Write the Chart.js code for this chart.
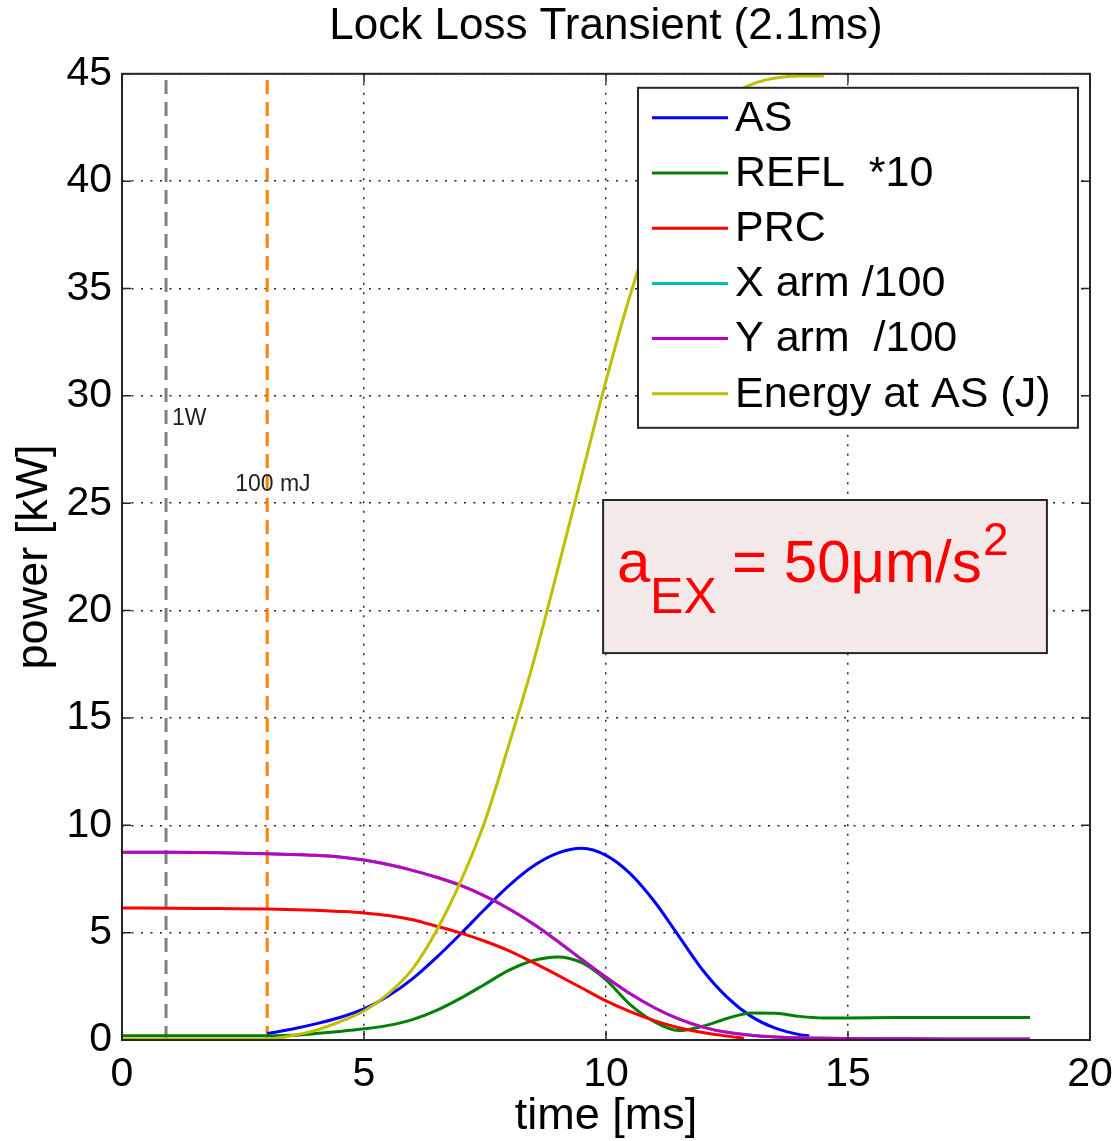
<!DOCTYPE html>
<html><head><meta charset="utf-8">
<script src="https://cdn.jsdelivr.net/npm/chart.js@4.4.1/dist/chart.umd.min.js"></script>
<style>html,body{margin:0;padding:0;background:#fff}#wrap{width:1116px;height:1141px}</style>
</head><body><div id="wrap"><canvas id="c" width="1116" height="1141"></canvas></div>
<script>
// ---------- data ----------
const titleText = 'Lock Loss Transient (2.1ms)';
const xTitle = 'time [ms]';
const yTitle = 'power [kW]';
const xTicks = [0, 5, 10, 15, 20];
const yTicks = [0, 5, 10, 15, 20, 25, 30, 35, 40, 45];
const seriesLabels = ['AS', 'REFL  *10', 'PRC', 'X arm /100', 'Y arm  /100', 'Energy at AS (J)'];
const seriesColors = ['#0000ff', '#008000', '#ff0000', '#00bfbf', '#bf00bf', '#bfbf00'];

const tAS = [3.0, 3.5, 4.0, 4.5, 5.0, 5.5, 6.0, 6.5, 7.0, 7.5, 8.0, 8.5, 9.0, 9.5, 10.0, 10.5, 11.0, 11.5, 12.0, 12.5, 13.0, 13.5, 14.0, 14.2];
const AS  = [0.3, 0.5, 0.75, 1.05, 1.45, 2.05, 2.85, 3.85, 4.95, 6.1, 7.2, 8.1, 8.7, 8.93, 8.6, 7.75, 6.45, 4.85, 3.25, 2.0, 1.1, 0.55, 0.25, 0.2];

const tREFL = [0, 1, 2, 3, 3.5, 4, 4.5, 5, 5.5, 6, 6.5, 7, 7.5, 8, 8.5, 9, 9.5, 10, 10.5, 11, 11.5, 12, 12.5, 13, 13.5, 14, 14.5, 15, 16, 17, 18, 18.76];
const REFL  = [0.2, 0.2, 0.2, 0.2, 0.22, 0.3, 0.4, 0.52, 0.68, 0.95, 1.38, 1.95, 2.6, 3.25, 3.7, 3.87, 3.6, 2.8, 1.65, 0.85, 0.44, 0.64, 1.0, 1.26, 1.25, 1.1, 1.03, 1.03, 1.05, 1.05, 1.05, 1.05];

const tPRC = [0, 1, 2, 3, 4, 4.5, 5, 5.5, 6, 6.5, 7, 7.5, 8, 8.5, 9, 9.5, 10, 10.5, 11, 11.5, 12, 12.5, 12.85];
const PRC  = [6.15, 6.14, 6.12, 6.1, 6.04, 5.99, 5.92, 5.8, 5.6, 5.3, 4.98, 4.6, 4.15, 3.6, 3.02, 2.42, 1.82, 1.32, 0.9, 0.57, 0.35, 0.18, 0.08];

const tArm = [0, 1, 2, 3, 4, 4.5, 5, 5.5, 6, 6.5, 7, 7.5, 8, 8.5, 9, 9.5, 10, 10.5, 11, 11.5, 12, 12.5, 13, 13.5, 14, 15, 16, 17, 18, 18.76];
const XARM = [8.75, 8.74, 8.72, 8.68, 8.6, 8.52, 8.38, 8.17, 7.9, 7.58, 7.2, 6.7, 6.1, 5.4, 4.6, 3.75, 2.92, 2.15, 1.5, 0.98, 0.6, 0.36, 0.22, 0.14, 0.1, 0.07, 0.06, 0.05, 0.05, 0.05];
const YARM = [8.75, 8.74, 8.72, 8.68, 8.6, 8.52, 8.38, 8.17, 7.9, 7.58, 7.2, 6.7, 6.1, 5.4, 4.6, 3.75, 2.92, 2.15, 1.5, 0.98, 0.6, 0.36, 0.22, 0.14, 0.1, 0.07, 0.06, 0.05, 0.05, 0.05];

const tEnergy = [0, 3.0, 3.5, 4.0, 4.5, 5.0, 5.5, 6.0, 6.5, 7.0, 7.5, 8.0, 8.5, 9.0, 9.5, 10.0, 10.5, 11.0, 11.5, 12.0, 12.5, 13.0, 13.5, 14.0, 14.5];
const ENERGY  = [0.05, 0.05, 0.2, 0.45, 0.85, 1.35, 2.15, 3.3, 5.1, 7.4, 10.2, 13.8, 17.6, 21.9, 26.3, 30.7, 34.7, 38.1, 40.8, 42.7, 43.9, 44.5, 44.8, 44.9, 44.9];

const markerTimes  = [0.91, 3.0];
const markerColors = ['#808080', '#ff8000'];
const markerLabels = ['1W', '100 mJ'];
const noteParts = ['a', 'EX', '= 50\u03bcm/s', '2'];

// ---------- chart ----------
const FONT = '"Liberation Sans", Arial, Helvetica, sans-serif';
Chart.defaults.font.family = FONT;
Chart.defaults.color = '#000';

const pts = (t, v) => t.map((x, i) => ({x: x, y: v[i]}));
const series = [tAS, AS, tREFL, REFL, tPRC, PRC, tArm, XARM, tArm, YARM, tEnergy, ENERGY];
const datasets = [];
for (let k = 0; k < 6; k++) {
  datasets.push({
    label: seriesLabels[k],
    data: pts(series[2*k], series[2*k+1]),
    borderColor: seriesColors[k],
    backgroundColor: seriesColors[k],
    borderWidth: 3,
    pointRadius: 0,
    fill: false,
    cubicInterpolationMode: 'monotone',
    order: 5 - k
  });
}
markerTimes.forEach((m, i) => {
  datasets.push({
    label: markerLabels[i],
    data: [{x: m, y: yTicks[0]}, {x: m, y: yTicks[yTicks.length-1]}],
    borderColor: markerColors[i],
    borderWidth: 3,
    borderDash: [14, 8],
    pointRadius: 0,
    fill: false,
    order: 10 + i
  });
});

const decor = {
  id: 'decor',
  afterDatasetsDraw(chart) {
    const {ctx, chartArea: a, scales: {x, y}} = chart;
    ctx.save();
    // marker labels
    ctx.fillStyle = '#222';
    ctx.font = '23px ' + FONT;
    ctx.textBaseline = 'alphabetic';
    ctx.textAlign = 'left';
    ctx.fillText(markerLabels[0], x.getPixelForValue(markerTimes[0]) + 6, y.getPixelForValue(28.65));
    ctx.fillText(markerLabels[1], x.getPixelForValue(markerTimes[1]) - 32, y.getPixelForValue(25.57));

    // annotation box
    const bx0 = x.getPixelForValue(9.94), bx1 = x.getPixelForValue(19.11);
    const by0 = y.getPixelForValue(25.15), by1 = y.getPixelForValue(18.02);
    ctx.fillStyle = '#f4e9e9';
    ctx.fillRect(bx0, by0, bx1 - bx0, by1 - by0);
    ctx.strokeStyle = '#262626';
    ctx.lineWidth = 2;
    ctx.strokeRect(bx0, by0, bx1 - bx0, by1 - by0);
    ctx.fillStyle = '#ff0000';
    ctx.font = '60px ' + FONT;
    ctx.fillText(noteParts[0], bx0 + 14, by0 + 82);
    ctx.fillText(noteParts[2], bx0 + 129, by0 + 82);
    ctx.font = '50px ' + FONT;
    ctx.fillText(noteParts[1], bx0 + 47, by0 + 113);
    ctx.font = '46px ' + FONT;
    ctx.fillText(noteParts[3], bx0 + 380, by0 + 55);

    // legend
    const lx0 = a.right - 452, lx1 = a.right - 12, ly0 = a.top + 14, ly1 = a.top + 354;
    ctx.fillStyle = '#fff';
    ctx.fillRect(lx0, ly0, lx1 - lx0, ly1 - ly0);
    ctx.strokeStyle = '#262626';
    ctx.lineWidth = 2;
    ctx.strokeRect(lx0, ly0, lx1 - lx0, ly1 - ly0);
    ctx.font = '43px ' + FONT;
    ctx.textBaseline = 'middle';
    for (let k = 0; k < 6; k++) {
      const ds = chart.data.datasets[k];
      const cy = ly0 + 30 + k * 55.2;
      ctx.strokeStyle = ds.borderColor;
      ctx.lineWidth = 3;
      ctx.beginPath();
      ctx.moveTo(lx0 + 14, cy);
      ctx.lineTo(lx0 + 90, cy);
      ctx.stroke();
      ctx.fillStyle = '#000';
      ctx.fillText(ds.label, lx0 + 97, cy + 1);
    }

    // frame and inward ticks
    ctx.strokeStyle = '#262626';
    ctx.lineWidth = 2;
    ctx.strokeRect(a.left, a.top, a.right - a.left, a.bottom - a.top);
    ctx.lineWidth = 1.5;
    ctx.beginPath();
    x.ticks.forEach(t => {
      const px = x.getPixelForValue(t.value);
      ctx.moveTo(px, a.bottom); ctx.lineTo(px, a.bottom - 9);
      ctx.moveTo(px, a.top); ctx.lineTo(px, a.top + 9);
    });
    y.ticks.forEach(t => {
      const py = y.getPixelForValue(t.value);
      ctx.moveTo(a.left, py); ctx.lineTo(a.left + 9, py);
      ctx.moveTo(a.right, py); ctx.lineTo(a.right - 9, py);
    });
    ctx.stroke();
    ctx.restore();
  }
};

const gridColor = (c) => 'rgba(0,0,0,0.85)';

new Chart(document.getElementById('c'), {
  type: 'line',
  data: {datasets: datasets},
  plugins: [decor],
  options: {
    responsive: false,
    animation: false,
    devicePixelRatio: 1,
    layout: {padding: {left: 0, right: 26, top: 0, bottom: 0}},
    plugins: {
      legend: {display: false},
      tooltip: {enabled: false},
      title: {
        display: true, text: titleText, fullSize: false,
        font: {size: 44, weight: 'normal', family: FONT},
        color: '#000',
        padding: {top: 0, bottom: 21}
      }
    },
    scales: {
      x: {
        type: 'linear', min: xTicks[0], max: xTicks[xTicks.length-1],
        afterBuildTicks: s => { s.ticks = xTicks.map(v => ({value: v})); },
        afterFit: s => { s.height = 101; s.paddingLeft = 0; s.paddingRight = 0; },
        ticks: {font: {size: 41}, color: '#000', padding: 10, maxRotation: 0, autoSkip: false},
        grid: {color: gridColor, lineWidth: 1.5, drawTicks: false},
        border: {display: false, dash: [2, 7.5]},
        title: {display: true, text: xTitle, font: {size: 45, lineHeight: 1}, color: '#000', padding: {top: 0, bottom: 2}}
      },
      y: {
        type: 'linear', min: yTicks[0], max: yTicks[yTicks.length-1],
        afterBuildTicks: s => { s.ticks = yTicks.map(v => ({value: v})); },
        afterFit: s => { s.width = 122; s.paddingTop = 0; s.paddingBottom = 0; },
        ticks: {font: {size: 41}, color: '#000', padding: 10, autoSkip: false},
        grid: {color: gridColor, lineWidth: 1.5, drawTicks: false},
        border: {display: false, dash: [2, 7.5]},
        title: {display: true, text: yTitle, font: {size: 45, lineHeight: 1}, color: '#000', padding: {top: 12, bottom: 0}}
      }
    }
  }
});
</script></body></html>
